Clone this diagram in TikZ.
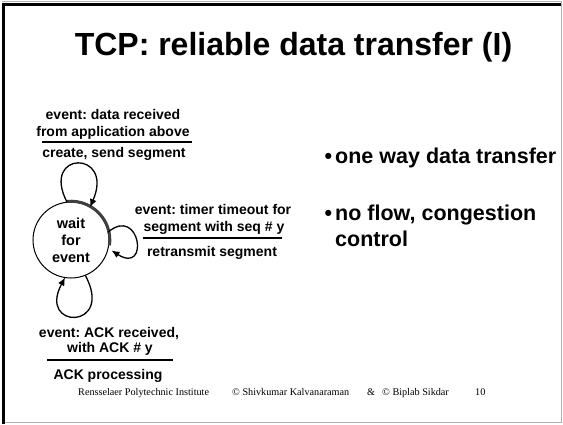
\documentclass[tikz,border=0pt]{standalone}
\usepackage{fontspec}
\setmainfont{Liberation Serif}
\setsansfont{Liberation Sans}
\usetikzlibrary{arrows.meta}
\frenchspacing
\begin{document}
\begin{tikzpicture}[x=1pt,y=-1pt,
  lbl/.style={font=\sffamily\bfseries\fontsize{14}{16.8}\selectfont, inner sep=0pt, anchor=base},
  selfloop/.style={line width=1.3pt, -{Latex[length=8pt,width=7pt]}},
  rulebar/.style={line width=1.1pt},
  bullet/.style={font=\sffamily\bfseries\fontsize{21.5}{26}\selectfont, inner sep=0pt, anchor=base west},
  foot/.style={font=\fontsize{10.2}{12}\selectfont, inner sep=0pt, anchor=base west}
]
\useasboundingbox (0,0) rectangle (563,424);
% slide frame
\draw[black!30, line width=1.2pt] (2,1.2) -- (561.6,1.2) -- (561.6,422.6) -- (2,422.6);
\draw[line width=2.6pt] (3.2,424) -- (3.2,4.2) -- (561,4.2);

% title
\node[font=\sffamily\bfseries\fontsize{32}{38}\selectfont, inner sep=0pt] (title) at (293.5,47) {TCP: reliable data transfer (I)};

% state
\node[circle, draw, line width=1pt, minimum size=76pt, inner sep=0pt, outer sep=0pt,
      font=\sffamily\bfseries\fontsize{14.5}{17}\selectfont, align=center] (c) at (71,240) {wait\\for\\event};
\draw[line width=3pt, black!75] (c.center) ++(-96:38.8) arc[start angle=-96, end angle=8, radius=38.8];

% self transitions
\coordinate (rt) at ([xshift=4pt]c.-16);
\draw[selfloop] (c.96) .. controls (40,150) and (115,150) .. (c.60);
\draw[selfloop] (c.12) .. controls (140,205) and (150,275) .. (rt);
\draw[selfloop] (c.-68) .. controls (115,330) and (37,330) .. (c.-99);

% transition: data from above
\coordinate (r1a) at (42,142);
\coordinate (r1b) at (192,142);
\draw[rulebar] (r1a) -- (r1b);
\node[lbl] (t1a) at (113,119.5) {event: data received};
\node[lbl] (t1b) at (113,136.5) {from application above};
\node[lbl] (t1c) at (114,157.5) {create, send segment};

% transition: timeout
\coordinate (r2a) at (143,238);
\coordinate (r2b) at (282,238);
\draw[rulebar] (r2a) -- (r2b);
\node[lbl] (t2a) at (213,214) {event: timer timeout for};
\node[lbl] (t2b) at (214,231.5) {segment with seq \# y};
\node[lbl] (t2c) at (212,256) {retransmit segment};

% transition: ACK received
\coordinate (r3a) at (47,360);
\coordinate (r3b) at (173,360);
\draw[rulebar] (r3a) -- (r3b);
\node[lbl] (t3a) at (109,337.5) {event: ACK received,};
\node[lbl] (t3b) at (110,352.5) {with ACK \# y};
\node[lbl] (t3c) at (108,379) {ACK processing};

% bullet points
\node[bullet] (b1) at (335,163) {\llap{•\hspace{3pt}}one way data transfer};
\node[bullet] (b2) at (335,220) {\llap{•\hspace{3pt}}no flow, congestion};
\node[bullet] (b3) at (335,246) {control};

% footer
\node[foot] (f1) at (78,395) {Rensselaer Polytechnic Institute};
\node[foot] (f2) at (232,395) {© Shivkumar Kalvanaraman};
\node[foot] (f3) at (367,395) {\&};
\node[foot] (f4) at (382,395) {© Biplab Sikdar};
\node[foot] (f5) at (475,395) {10};
\end{tikzpicture}
\end{document}
